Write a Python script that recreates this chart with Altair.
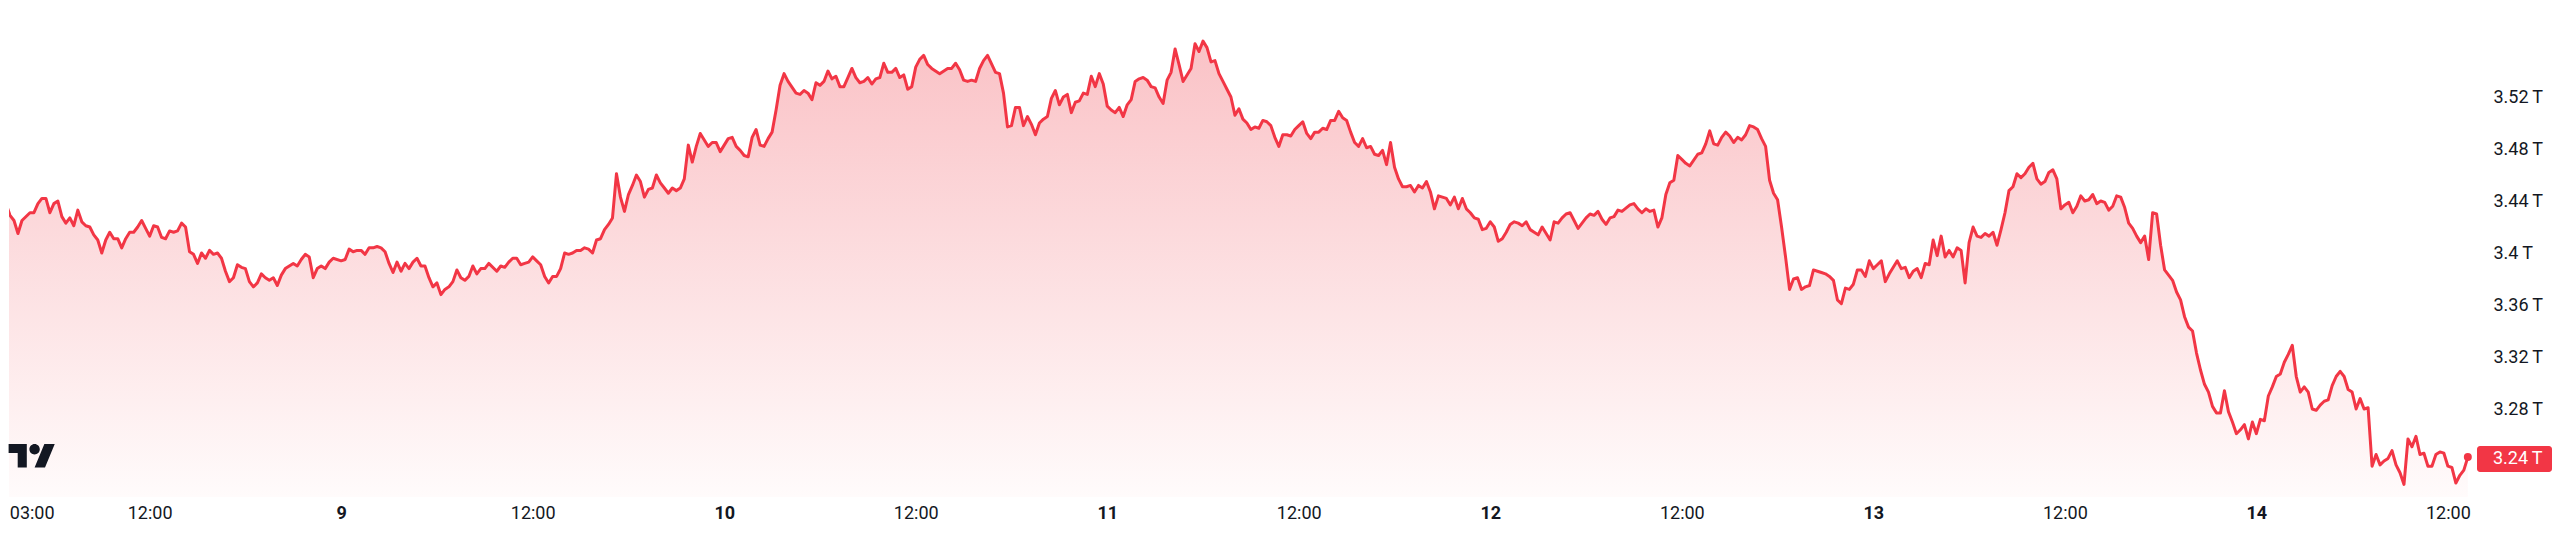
import altair as alt
import pandas as pd

# Total crypto market cap (trillion USD).
# Each entry: (15-minute bar index counted from 8 Nov 2025 03:00 UTC, value)
nov08 = [(0,3.438),(1,3.429),(2,3.425),(3,3.415),(4,3.425),(6,3.431),(7,3.431),(8,3.438),(9,3.442),(10,3.442),
         (11,3.431),(12,3.438),(13,3.440),(14,3.428),(15,3.423),(16,3.427),(17,3.421),(18,3.433),(19,3.424),(20,3.421),
         (21,3.420),(22,3.414),(23,3.410),(24,3.400),(25,3.410),(26,3.416),(27,3.411),(28,3.411),(29,3.404),(30,3.411),
         (31,3.416),(32,3.416),(33,3.420),(34,3.425),(35,3.419),(36,3.413),(37,3.421),(38,3.420),(39,3.412),(40,3.411),
         (41,3.417),(42,3.416),(43,3.417),(44,3.423),(45,3.420),(46,3.401),(47,3.399),(48,3.392),(49,3.400),(50,3.396),
         (51,3.402),(52,3.399),(53,3.400),(54,3.396),(55,3.386),(56,3.378),(57,3.381),(58,3.391),(59,3.389),(60,3.388),
         (61,3.378),(62,3.374),(63,3.377),(64,3.384),(65,3.381),(66,3.379),(67,3.381),(68,3.375),(69,3.383),(70,3.388),
         (72,3.392),(73,3.390),(74,3.395),(75,3.399),(76,3.397),(77,3.381),(78,3.388),(79,3.390),(80,3.388),(81,3.393),
         (82,3.396)]
nov09 = [(84,3.394),(85,3.395),(86,3.403),(87,3.401),(88,3.402),(89,3.402),(90,3.399),(91,3.404),(92,3.404),(93,3.405),
         (94,3.404),(95,3.401),(96,3.392),(97,3.385),(98,3.393),(99,3.386),(100,3.392),(101,3.388),(102,3.393),(103,3.396),
         (104,3.390),(105,3.390),(106,3.381),(107,3.374),(108,3.377),(109,3.368),(110,3.372),(111,3.374),(112,3.378),(113,3.387),
         (114,3.381),(115,3.379),(116,3.382),(117,3.390),(118,3.384),(119,3.388),(120,3.388),(121,3.392),(123,3.386),(124,3.390),
         (125,3.389),(126,3.393),(127,3.396),(128,3.396),(129,3.391),(130,3.392),(131,3.393),(132,3.397),(133,3.394),(134,3.391),
         (135,3.382),(136,3.377),(137,3.382),(138,3.382),(139,3.388),(140,3.400),(141,3.399),(142,3.400),(143,3.402),(144,3.402),
         (145,3.404),(146,3.403),(147,3.400),(148,3.410),(149,3.411),(150,3.418),(151,3.422),(152,3.427),(153,3.461),(154,3.443),
         (155,3.432),(156,3.445),(157,3.452),(158,3.460),(159,3.455),(160,3.443),(161,3.449),(162,3.450),(163,3.460),(164,3.454),
         (165,3.450),(166,3.446),(167,3.450),(168,3.448),(169,3.450),(170,3.457),(171,3.483),(172,3.470),(173,3.482),(174,3.492),
         (176,3.482),(177,3.485),(178,3.485),(179,3.478)]
nov10 = [(181,3.488),(182,3.489),(183,3.482),(184,3.479),(185,3.475),(186,3.474),(187,3.489),(188,3.495),(189,3.483),(190,3.482),
         (191,3.488),(192,3.493),(193,3.510),(194,3.529),(195,3.538),(196,3.532),(198,3.523),(199,3.522),(200,3.525),(201,3.523),
         (202,3.518),(203,3.531),(204,3.529),(205,3.532),(206,3.540),(207,3.534),(208,3.536),(209,3.528),(210,3.528),(211,3.535),
         (212,3.542),(213,3.535),(214,3.531),(215,3.532),(216,3.535),(217,3.530),(218,3.534),(219,3.535),(220,3.546),(221,3.539),
         (222,3.539),(223,3.542),(224,3.535),(225,3.537),(226,3.526),(227,3.528),(228,3.543),(229,3.549),(230,3.552),(231,3.545),
         (232,3.542),(234,3.538),(236,3.542),(237,3.542),(238,3.546),(239,3.541),(240,3.533),(241,3.532),(242,3.533),(243,3.532),
         (244,3.542),(245,3.548),(246,3.552),(248,3.539),(249,3.538),(250,3.523),(251,3.497),(252,3.498),(253,3.512),(254,3.512),
         (255,3.498),(256,3.505),(257,3.499),(258,3.491),(259,3.500),(260,3.503),(261,3.505),(262,3.519),(263,3.525),(264,3.514),
         (265,3.520),(266,3.522),(267,3.508),(268,3.516),(269,3.517),(270,3.523),(271,3.522),(272,3.536),(273,3.528),(274,3.538),
         (275,3.530)]
nov11 = [(276,3.513),(277,3.510),(278,3.508),(279,3.512),(280,3.505),(281,3.514),(282,3.518),(283,3.532),(284,3.534),(285,3.535),
         (286,3.533),(287,3.528),(288,3.527),(289,3.520),(290,3.515),(291,3.533),(292,3.539),(293,3.557),(294,3.545),(295,3.532),
         (296,3.537),(297,3.542),(298,3.561),(299,3.555),(300,3.563),(301,3.558),(302,3.547),(303,3.548),(304,3.538),(305,3.532),
         (306,3.526),(307,3.520),(308,3.506),(309,3.511),(310,3.503),(311,3.500),(312,3.495),(313,3.497),(314,3.496),(315,3.502),
         (316,3.501),(317,3.498),(318,3.489),(319,3.482),(320,3.491),(321,3.491),(322,3.490),(323,3.495),(324,3.498),(325,3.501),
         (326,3.492),(327,3.488),(328,3.493),(329,3.493),(330,3.496),(331,3.495),(332,3.502),(333,3.502),(334,3.509),(335,3.504),
         (336,3.502),(337,3.493),(338,3.485),(339,3.482),(340,3.488),(341,3.481),(342,3.482),(343,3.476),(344,3.475),(345,3.479),
         (346,3.468),(347,3.485),(348,3.466),(349,3.457),(350,3.451),(351,3.451),(352,3.452),(353,3.447),(354,3.452),(355,3.450),
         (356,3.455),(357,3.447),(358,3.434),(359,3.444),(360,3.443),(361,3.442),(362,3.437),(363,3.443),(364,3.434),(365,3.442),
         (366,3.434),(367,3.431),(368,3.427),(369,3.426),(370,3.418),(371,3.419)]
nov12 = [(372,3.424),(373,3.420),(374,3.409),(375,3.411),(376,3.416),(377,3.422),(378,3.424),(379,3.423),(380,3.421),(381,3.424),
         (382,3.418),(383,3.416),(384,3.414),(385,3.420),(386,3.415),(387,3.410),(388,3.424),(389,3.423),(390,3.427),(391,3.430),
         (392,3.431),(393,3.425),(394,3.419),(395,3.423),(396,3.427),(397,3.430),(398,3.429),(399,3.432),(400,3.426),(401,3.422),
         (402,3.427),(403,3.428),(404,3.433),(405,3.432),(407,3.437),(408,3.438),(409,3.434),(410,3.431),(411,3.434),(412,3.432),
         (413,3.433),(414,3.420),(415,3.427),(416,3.445),(417,3.454),(418,3.456),(419,3.475),(420,3.472),(421,3.469),(422,3.467),
         (424,3.476),(425,3.477),(426,3.484),(427,3.494),(428,3.484),(429,3.483),(430,3.489),(431,3.493),(432,3.490),(433,3.485),
         (434,3.489),(435,3.487),(436,3.491),(437,3.498),(438,3.497),(439,3.495),(440,3.488),(441,3.482),(442,3.456),(443,3.446),
         (444,3.441),(445,3.420),(446,3.397),(447,3.372),(448,3.380),(449,3.381),(450,3.372),(451,3.374),(452,3.375),(453,3.387),
         (454,3.386),(455,3.385),(456,3.384),(457,3.382),(458,3.379),(459,3.364),(460,3.361),(461,3.373),(462,3.372),(463,3.376),
         (464,3.387),(465,3.387),(466,3.382),(467,3.394)]
nov13 = [(468,3.388),(469,3.391),(470,3.394),(471,3.378),(472,3.384),(473,3.389),(474,3.394),(475,3.388),(476,3.389),(477,3.381),
         (478,3.386),(479,3.388),(480,3.381),(481,3.392),(482,3.391),(483,3.410),(484,3.398),(485,3.413),(486,3.397),(487,3.402),
         (488,3.397),(489,3.404),(490,3.402),(491,3.377),(492,3.408),(493,3.420),(494,3.413),(495,3.412),(496,3.415),(497,3.413),
         (498,3.416),(499,3.406),(500,3.418),(501,3.431),(502,3.448),(503,3.451),(504,3.461),(505,3.458),(506,3.461),(507,3.466),
         (508,3.469),(509,3.457),(510,3.453),(511,3.455),(512,3.462),(513,3.464),(514,3.457),(515,3.434),(516,3.437),(517,3.439),
         (518,3.431),(519,3.436),(520,3.444),(521,3.440),(522,3.441),(523,3.445),(524,3.438),(525,3.440),(526,3.439),(527,3.433),
         (528,3.436),(529,3.444),(530,3.443),(531,3.435),(532,3.423),(533,3.419),(534,3.413),(535,3.408),(536,3.413),(537,3.395),
         (538,3.431),(539,3.430),(540,3.406),(541,3.387),(542,3.383),(543,3.379),(544,3.370),(545,3.364),(546,3.351),(547,3.343),
         (548,3.340),(549,3.323),(550,3.310),(551,3.299),(552,3.293),(553,3.282),(554,3.277),(555,3.277),(556,3.294),(557,3.278),
         (558,3.270),(559,3.261),(560,3.264),(561,3.268),(562,3.257),(563,3.270)]
nov14 = [(564,3.261),(565,3.272),(566,3.271),(567,3.290),(568,3.297),(569,3.305),(570,3.307),(571,3.316),(572,3.322),(573,3.329),
         (574,3.305),(575,3.293),(576,3.297),(577,3.293),(578,3.280),(579,3.279),(580,3.283),(581,3.286),(582,3.287),(583,3.298),
         (584,3.305),(585,3.309),(586,3.305),(587,3.295),(588,3.293),(589,3.280),(590,3.288),(591,3.280),(592,3.281),(593,3.236),
         (594,3.245),(595,3.237),(596,3.240),(597,3.242),(598,3.248),(599,3.237),(600,3.231),(601,3.222),(602,3.257),(603,3.251),
         (604,3.259),(605,3.245),(606,3.246),(607,3.236),(608,3.236),(609,3.245),(610,3.247),(611,3.246),(612,3.236),(613,3.235),
         (614,3.223),(615,3.229),(616,3.233),(617,3.243)]

y_ticks = [3.28, 3.32, 3.36, 3.40, 3.44, 3.48, 3.52]
y_domain = [3.2123, 3.5885]
x_tick_hours = list(range(9, 154, 12))   # 12:00 / 00:00 ticks, hours after 8 Nov 03:00

RED = "#F23645"
FILL_TOP = "#FAC2C6"
FILL_BOTTOM = "#FFFBFB"
TEXT = "#131722"
FONT = "Roboto"
THIN = "\u2009"

W, H = 2468, 489
PX_PER_BAR = 3.99
BASE_MS = int(pd.Timestamp("2025-11-08T03:00:00Z").value // 1_000_000)
BAR_MS = 15 * 60 * 1000
HOUR_MS = 3600 * 1000

rows = [{"t": BASE_MS + k * BAR_MS, "v": v}
        for day in (nov08, nov09, nov10, nov11, nov12, nov13, nov14) for k, v in day]
df = pd.DataFrame(rows)
last = df.iloc[[-1]].copy()
last["label"] = f"{last['v'].iloc[0]:.2f}{THIN}T"

T0 = BASE_MS + int(0.75 * BAR_MS)
T1 = T0 + int(W / PX_PER_BAR * BAR_MS)
x_ticks = [T0 + 60000] + [BASE_MS + h * HOUR_MS for h in x_tick_hours]

x_enc = alt.X(
    "t:T",
    title=None,
    scale=alt.Scale(type="utc", domain=[T0, T1], nice=False),
    axis=alt.Axis(
        values=x_ticks,
        labelExpr="utchours(datum.value) == 0 ? utcFormat(datum.value, '%-d') : utcFormat(datum.value, '%H:00')",
        labelFont=FONT, labelFontSize=18, labelColor=TEXT,
        labelFontWeight={"condition": {"test": "utchours(datum.value) == 0", "value": "bold"}, "value": "normal"},
        labelAlign={"condition": {"test": f"datum.value < {T0 + 120000}", "value": "left"}, "value": "center"},
        labelBaseline="middle", labelPadding=16, labelFlush=False, labelOverlap=False,
        ticks=False, domain=False, grid=False,
    ),
)
y_enc = alt.Y(
    "v:Q",
    title=None,
    scale=alt.Scale(domain=y_domain, zero=False, nice=False),
    axis=alt.Axis(
        orient="right", values=y_ticks,
        labelExpr=f"format(datum.value, '.2~f') + '{THIN}T'",
        labelFont=FONT, labelFontSize=18, labelColor=TEXT,
        labelAlign="left", labelBaseline="middle", labelPadding=16,
        ticks=False, domain=False, grid=False, labelOverlap=False,
    ),
)

grad = alt.Gradient(
    gradient="linear",
    stops=[alt.GradientStop(color=FILL_TOP, offset=0),
           alt.GradientStop(color=FILL_BOTTOM, offset=1)],
    x1=0, x2=0, y1=0, y2=1,
)

base = alt.Chart(df)
area = base.mark_area(fill=grad, fillOpacity=1, line=False, clip=True).encode(
    x=x_enc, y=y_enc, y2=alt.Y2(datum=y_domain[0]))
line = base.mark_line(color=RED, strokeWidth=3, strokeJoin="round", strokeCap="round", clip=True).encode(x="t:T", y="v:Q")

lastc = alt.Chart(last)
dot = lastc.mark_circle(color=RED, size=64, opacity=1).encode(x="t:T", y="v:Q")
box = lastc.mark_rect(color=RED, cornerRadius=3, yOffset=-11, y2Offset=15).encode(
    x=alt.value(W), x2=alt.value(W + 75), y="v:Q", y2="v")
box_text = lastc.mark_text(color="white", font=FONT, fontSize=18, align="left", baseline="middle", yOffset=2).encode(
    x=alt.value(W + 16), y="v:Q", text="label:N")

logo_path = ("M -0.2222 0.4444 L -0.6111 0.4444 L -0.6111 -0.1667 L -1 -0.1667 L -1 -0.5556 L -0.2222 -0.5556 Z "
             "M 0.5556 0.4444 L 0.1111 0.4444 L 0.5278 -0.5556 L 0.9722 -0.5556 Z "
             "M 0.3333 -0.3333 A 0.2222 0.2222 0 1 1 -0.1111 -0.3333 A 0.2222 0.2222 0 1 1 0.3333 -0.3333 Z")
logo = alt.Chart(pd.DataFrame({"logo": ["TradingView"]})).mark_point(
    shape=logo_path, size=2190, filled=True, color=TEXT, opacity=1, strokeWidth=0
).encode(x=alt.value(23), y=alt.value(449))

chart = alt.layer(area, line, dot, box, box_text, logo).properties(
    width=W, height=H, padding=0, background="white"
).configure_view(stroke=None)

chart.save("out.html", embed_options={"renderer": "svg", "actions": False})
